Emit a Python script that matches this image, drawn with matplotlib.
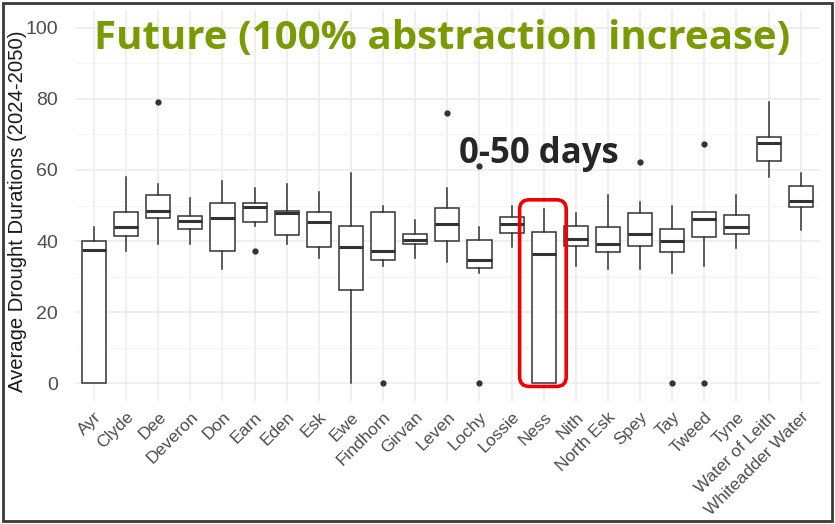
import matplotlib
matplotlib.use("Agg")
import matplotlib.pyplot as plt
from matplotlib.patches import FancyBboxPatch, Rectangle

plt.rcParams['font.family'] = ['Liberation Sans', 'DejaVu Sans']

# river catchments
rivers = ['Ayr', 'Clyde', 'Dee', 'Deveron', 'Don', 'Earn', 'Eden', 'Esk', 'Ewe',
          'Findhorn', 'Girvan', 'Leven', 'Lochy', 'Lossie', 'Ness', 'Nith',
          'North Esk', 'Spey', 'Tay', 'Tweed', 'Tyne', 'Water of Leith',
          'Whiteadder Water']

# box statistics (days)
whisker_low = [0, 37.2, 39.1, 39.1, 32.0, 44.3, 39.2, 35.1, 0, 33.0, 35.1, 34.2,
               31.1, 38.2, 0, 33.0, 32.0, 32.0, 31.1, 33.0, 38.1, 58.1, 43.1]
q1 = [0, 41.5, 46.4, 43.5, 37.2, 45.4, 41.7, 38.4, 26.2, 34.6, 39.1, 40.1,
      32.5, 42.2, 0, 38.7, 37.0, 38.6, 37.0, 41.0, 42.0, 62.5, 49.5]
median = [37.6, 44.0, 48.5, 45.6, 46.6, 49.5, 47.8, 45.4, 38.4, 37.2, 40.3, 44.7,
          34.6, 44.7, 36.3, 40.5, 39.1, 42.0, 40.0, 46.1, 44.0, 67.7, 51.3]
q3 = [40.0, 48.3, 53.0, 47.0, 50.8, 50.6, 48.5, 48.1, 44.3, 48.3, 42.0, 49.2,
      40.3, 46.8, 42.6, 44.3, 44.0, 47.8, 43.3, 48.1, 47.3, 69.4, 55.6]
whisker_high = [44.0, 58.1, 56.1, 52.0, 57.0, 54.8, 56.1, 53.9, 59.1, 49.9, 45.9,
                54.8, 44.0, 49.9, 48.9, 48.0, 53.0, 50.9, 49.9, 48.1, 53.0, 79.0, 59.1]
outliers = [[], [], [79.0], [], [], [37.2], [], [], [], [0], [], [76.1],
            [0, 61.1], [], [], [], [], [62.2], [0], [0, 67.2], [], [], []]

stats = []
for i, name in enumerate(rivers):
    stats.append({'label': name, 'whislo': whisker_low[i], 'q1': q1[i],
                  'med': median[i], 'q3': q3[i], 'whishi': whisker_high[i],
                  'fliers': outliers[i]})

fig = plt.figure(figsize=(8.35, 5.24), dpi=100)
ax = fig.add_axes([74.7 / 835, 1 - 401 / 524, (820 - 74.7) / 835, 391 / 524])

positions = list(range(1, len(rivers) + 1))
line_col = '#333333'
ax.bxp(stats, positions=positions, widths=0.75, patch_artist=True,
       boxprops=dict(facecolor='white', edgecolor=line_col, linewidth=1.1),
       medianprops=dict(color=line_col, linewidth=2.2),
       whiskerprops=dict(color=line_col, linewidth=1.1),
       capprops=dict(linewidth=0),
       flierprops=dict(marker='o', markersize=3.5, markerfacecolor=line_col,
                       markeredgecolor=line_col), zorder=3)

ax.set_xlim(0.4, len(rivers) + 0.6)
ax.set_ylim(-5, 105)
ax.set_yticks([0, 20, 40, 60, 80, 100])
ax.set_yticks([10, 30, 50, 70, 90], minor=True)
ax.set_xticks(positions)
ax.set_xticklabels(rivers, rotation=45, ha='right', va='top',
                   rotation_mode='anchor', fontsize=12.5, color='#4d4d4d')
ax.tick_params(axis='y', labelsize=14, colors='#4d4d4d', length=0, pad=12)
ax.tick_params(axis='y', which='minor', length=0)
ax.tick_params(axis='x', length=0, pad=6)
ax.grid(True, which='major', color='#ebebeb', linewidth=1.1)
ax.grid(True, which='minor', axis='y', color='#f2f2f2', linewidth=0.6)
ax.set_axisbelow(True)
for s in ax.spines.values():
    s.set_visible(False)
ax.set_ylabel('Average Drought Durations (2024-2050)', fontsize=14.6, color='#1a1a1a')
ax.yaxis.set_label_coords(-0.064, 0.485)

# title and annotation
fig.text(0.53, 0.927, 'Future (100% abstraction increase)', ha='center', va='center',
         fontsize=29, fontweight='bold', color='#7a9a01', family='Open Sans')
ax.text(14.85, 64.6, '0-50 days', ha='center', va='center', fontsize=25,
        fontweight='bold', color='#262626', family='Open Sans', zorder=5)

# red highlight around Ness
hl = FancyBboxPatch((14.25, -0.9), 1.45, 52.5, boxstyle='round,pad=0,rounding_size=0.3',
                    mutation_aspect=9.0, transform=ax.transData, fill=False,
                    edgecolor='#ee0000', linewidth=2.6, zorder=6, clip_on=False)
ax.add_patch(hl)

# outer frame
fig.patches.append(Rectangle((0.003, 0.005), 0.994, 0.99, transform=fig.transFigure,
                             fill=False, edgecolor='#3a3a3a', linewidth=2))

fig.savefig('out.png', dpi=100)
